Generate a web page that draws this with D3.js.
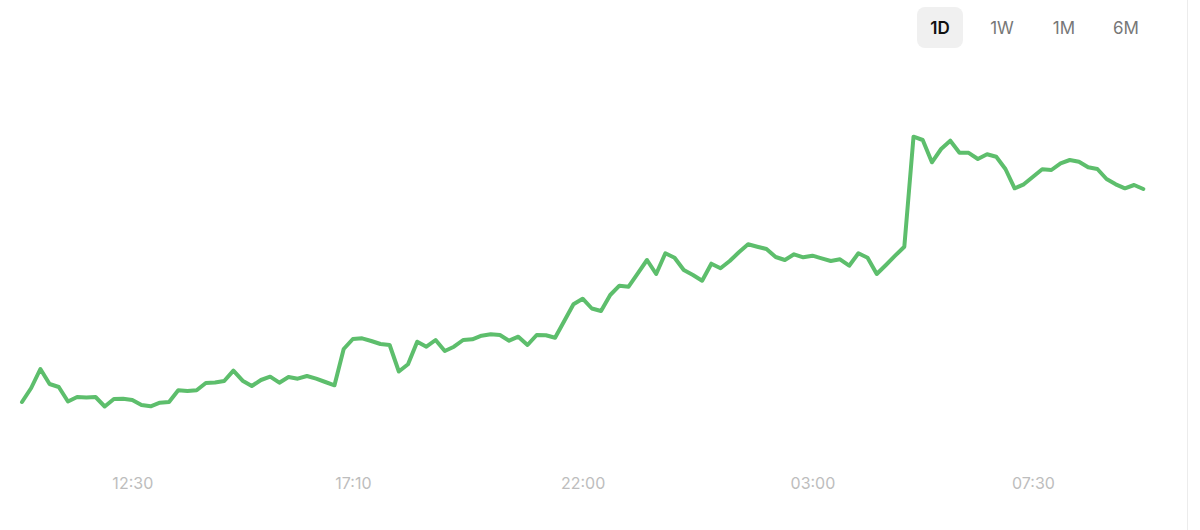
<!DOCTYPE html>
<html>
<head>
<meta charset="utf-8">
<script src="https://cdn.jsdelivr.net/npm/d3@7"></script>
<style>
  body { margin: 0; background: #fff; font-family: Inter, "Noto Sans", sans-serif; }
  svg { display: block; }
</style>
</head>
<body>
<svg id="chart"></svg>
<script>
// Price series (arbitrary units), one point per sample
var values = [
  18, 32, 51, 36, 33, 18.5, 23, 22.5, 23, 13.5,
  21, 21.3, 20, 15, 13.7, 17.3, 18, 29.7, 29, 29.7,
  37, 37.5, 39, 49.3, 39.3, 34, 40, 43.3, 37.3, 43,
  41.3, 44, 41.3, 38, 34.7, 71, 81, 81.7, 79, 76,
  75, 48.5, 55.7, 78.3, 73.3, 80, 69, 73.3, 80, 80.7,
  84.3, 85.7, 85, 79.3, 83.3, 75, 85, 84.7, 82.3, 99,
  115.7, 121.3, 111.5, 109, 125, 134.3, 133.3, 146.7, 160, 146,
  166.7, 162.3, 150, 145, 139.3, 156.3, 151.7, 159, 167.7, 175.7,
  173.3, 171, 163, 160, 165.7, 162.7, 164.3, 161.7, 159, 160.7,
  154.3, 166.7, 162.3, 146, 155, 164.3, 173.3, 283.3, 280, 257.7,
  271, 279.3, 267.2, 267.2, 261, 265.7, 263.3, 251, 231.7, 235.7,
  243.3, 250.7, 250, 256.7, 260, 258.3, 252.7, 251, 241, 235.7,
  231.7, 235, 231
];

// x-axis tick positions (sample index) and labels
var tickIndex = [12, 36, 61, 86, 110];
var tickLabels = ["12:30", "17:10", "22:00", "03:00", "07:30"];

// range buttons
var ranges = ["1D", "1W", "1M", "6M"];
var activeRange = "1D";

var width = 1200, height = 530;

var svg = d3.select("#chart")
  .attr("width", width)
  .attr("height", height);

// right edge divider
svg.append("line")
  .attr("x1", 1187.5).attr("x2", 1187.5)
  .attr("y1", 0).attr("y2", height)
  .style("stroke", "#ececec")
  .style("stroke-width", 1);

var xScale = d3.scaleLinear()
  .domain([0, values.length - 1])
  .range([22, 1143.3]);

var yScale = d3.scaleLinear()
  .domain([0, 300])
  .range([420, 120]);

var line = d3.line()
  .x(function(d, i) { return xScale(i); })
  .y(function(d) { return yScale(d); });

svg.append("path")
  .datum(values)
  .attr("d", line)
  .style("fill", "none")
  .style("stroke", "#5dbe6c")
  .style("stroke-width", "4px")
  .style("stroke-linejoin", "round")
  .style("stroke-linecap", "round");

// x axis, labels only
var xAxis = d3.axisBottom(xScale)
  .tickValues(tickIndex)
  .tickFormat(function(d, i) { return tickLabels[i]; })
  .tickSize(0)
  .tickPadding(0);

var axisG = svg.append("g")
  .attr("transform", "translate(0,478)")
  .call(xAxis);

axisG.select(".domain").remove();
axisG.selectAll("text")
  .style("font-family", "Inter, 'Noto Sans', sans-serif")
  .style("font-size", "16px")
  .style("fill", "#bdbdbd");

// range selector buttons
var btnX = d3.scalePoint()
  .domain(ranges)
  .range([940, 1126]);

var btns = svg.selectAll(".btn")
  .data(ranges)
  .enter()
  .append("g")
  .attr("class", "btn")
  .attr("transform", function(d) { return "translate(" + btnX(d) + ",28)"; });

btns.filter(function(d) { return d === activeRange; })
  .append("rect")
  .attr("x", -23).attr("y", -21)
  .attr("width", 46).attr("height", 41)
  .attr("rx", 8)
  .style("fill", "#f0f0f0");

btns.append("text")
  .attr("text-anchor", "middle")
  .attr("dy", "0.36em")
  .style("font-size", "17px")
  .style("font-weight", function(d) { return d === activeRange ? 600 : 400; })
  .style("fill", function(d) { return d === activeRange ? "#111" : "#777"; })
  .text(function(d) { return d; });
</script>
</body>
</html>
